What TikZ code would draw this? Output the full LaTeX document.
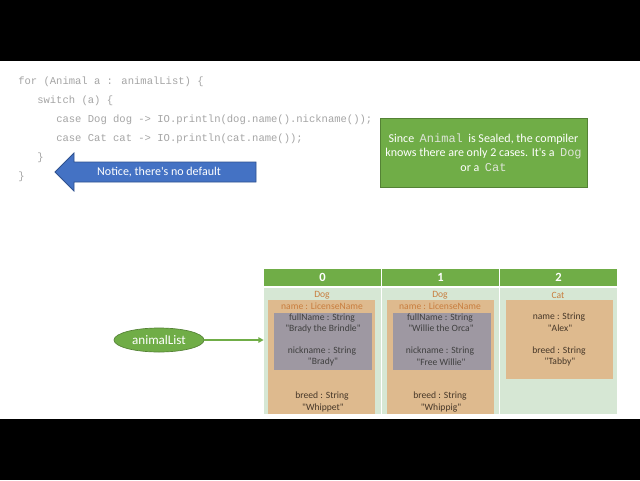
\documentclass[tikz,border=0pt]{standalone}
\usepackage{fontspec}
\setmainfont{Carlito}[Ligatures=TeXOff]
\newfontfamily\codefont{Liberation Mono}[Ligatures=TeXOff]
\usetikzlibrary{shapes.geometric,arrows.meta}
\definecolor{codegray}{RGB}{165,165,165}
\definecolor{arrowblue}{RGB}{68,114,196}
\definecolor{arrowblueborder}{RGB}{47,82,143}
\definecolor{pptgreen}{RGB}{112,173,71}
\definecolor{pptgreenborder}{RGB}{84,130,53}
\definecolor{cellgreen}{RGB}{214,231,212}
\definecolor{tan}{RGB}{222,186,142}
\definecolor{grayboxfill}{RGB}{158,152,162}
\definecolor{labelorange}{RGB}{200,125,62}
\definecolor{darktext}{RGB}{64,64,64}
\definecolor{browntext}{RGB}{70,55,40}
\definecolor{monolight}{RGB}{222,228,216}
\tikzset{
  code/.style={font=\codefont\fontsize{7.9pt}{9pt}\selectfont, text=codegray, anchor=west, inner sep=0pt, text height=6pt, text depth=1.5pt},
  hdr/.style={fill=pptgreen, draw=none, minimum width=87.75pt, minimum height=12.75pt, inner sep=0pt, text=white, font=\bfseries\fontsize{9.4pt}{10pt}\selectfont},
  bodycell/.style={fill=cellgreen, draw=none, minimum width=87.75pt, minimum height=94.5pt, inner sep=0pt},
  tanbox/.style={fill=tan, draw=none, minimum width=80.25pt, inner sep=0pt},
  graybox/.style={fill=grayboxfill, draw=none, minimum width=73.5pt, minimum height=42.75pt, inner sep=0pt},
  small/.style={font=\fontsize{7.2pt}{8pt}\selectfont, inner sep=0pt},
  lbl/.style={small, text=labelorange},
  intext/.style={small, text=darktext},
  brtext/.style={small, text=browntext},
}
\newcommand{\mw}[1]{{\codefont\color{monolight}#1}}
\begin{document}
\begin{tikzpicture}[x=0.75pt,y=-0.75pt]
\useasboundingbox (0,0) rectangle (640,480);
\fill[black] (0,0) rectangle (640,61);
\fill[white] (0,61) rectangle (640,419);
\fill[black] (0,419) rectangle (640,480);

% code
\node[code] (c1) at (18,81) {for (Animal a : animalList) \{};
\node[code] (c2) at (37,100) {switch (a) \{};
\node[code] (c3) at (56,119) {case Dog dog -> IO.println(dog.name().nickname());};
\node[code] (c4) at (56,138) {case Cat cat -> IO.println(cat.name());};
\node[code] (c5) at (37,157) {\}};
\node[code] (c6) at (18,176) {\}};

% blue arrow
\draw[fill=arrowblue, draw=arrowblueborder, line width=0.6pt]
  (55,172) -- (74,153) -- (74,162) -- (256,162) -- (256,182) -- (74,182) -- (74,191) -- cycle;
\node[text=white, font=\fontsize{9pt}{10pt}\selectfont, inner sep=0pt] (notice) at (159,172) {Notice, there's no default};

% green note
\node[fill=pptgreen, draw=pptgreenborder, line width=0.5pt, minimum width=155.25pt, minimum height=51.75pt, inner sep=0pt] (note) at (483.5,152.5) {};
\node[text=white, font=\fontsize{9pt}{10.9pt}\selectfont, align=center, inner sep=0pt] (notetext) at (note.center)
  {Since\ \ \mw{Animal}\ \ is Sealed, the compiler\\knows there are only 2 cases. It's a\ \ \mw{Dog}\\or a\ \ \mw{Cat}};

% table headers
\node[hdr] (h0) at (322.5,277) {0};
\node[hdr] (h1) at (440.5,277) {1};
\node[hdr] (h2) at (558.5,277) {2};
% table body
\node[bodycell] (b0) at (322.5,351) {};
\node[bodycell] (b1) at (440.5,351) {};
\node[bodycell] (b2) at (558.5,351) {};

% column 0
\node[lbl] (t0) at (322,295) {Dog};
\node[tanbox, minimum height=85.5pt] (d0) at (321.5,357) {};
\node[lbl] (n0) at (322,306.5) {name : LicenseName};
\node[graybox] (g0) at (323,341.5) {};
\node[intext] (f0) at (322,317.5) {fullName : String};
\node[intext] (fv0) at (323,328.5) {"Brady the Brindle"};
\node[intext] (k0) at (322,351) {nickname : String};
\node[intext] (kv0) at (323,362) {"Brady"};
\node[brtext] (br0) at (322,396) {breed : String};
\node[brtext] (bv0) at (323,408) {"Whippet"};

% column 1
\node[lbl] (t1) at (440,295) {Dog};
\node[tanbox, minimum height=85.5pt] (d1) at (440.5,357) {};
\node[lbl] (n1) at (440,306.5) {name : LicenseName};
\node[graybox] (g1) at (442,341.5) {};
\node[intext] (f1) at (440,317.5) {fullName : String};
\node[intext] (fv1) at (441,328.5) {"Willie the Orca"};
\node[intext] (k1) at (440,351) {nickname : String};
\node[intext] (kv1) at (441,362) {"Free Willie"};
\node[brtext] (br1) at (440,396) {breed : String};
\node[brtext] (bv1) at (441,408) {"Whippig"};

% column 2
\node[lbl] (t2) at (558,295) {Cat};
\node[tanbox, minimum height=59.25pt] (d2) at (559.5,339.5) {};
\node[brtext] (cn2) at (559,317) {name : String};
\node[brtext] (cv2) at (560,328) {"Alex"};
\node[brtext] (cb2) at (559,351) {breed : String};
\node[brtext] (cbv2) at (560,362) {"Tabby"};

% animalList
\node[ellipse, fill=pptgreen, draw=pptgreenborder, line width=0.5pt, minimum width=67.5pt, minimum height=18pt, inner sep=0pt, text=white, font=\fontsize{9.8pt}{10pt}\selectfont] (al) at (159,340) {animalList};
\draw[pptgreen, line width=1.1pt, -{Triangle[length=4pt,width=4pt]}] (al.east) -- (al -| b0.west);
\end{tikzpicture}
\end{document}
